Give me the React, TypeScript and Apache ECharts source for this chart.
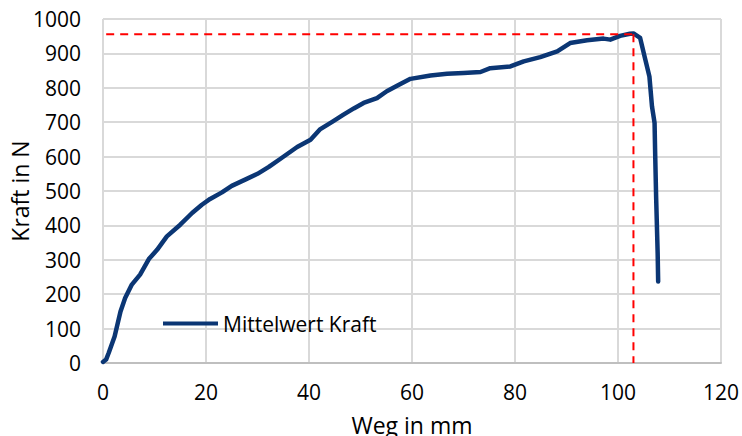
import React, { useEffect, useRef } from "react";
import * as echarts from "echarts";

const wegMm: number[] = [
  0, 0.6, 1.1, 2.25, 3.4, 4.3, 5.6, 7.2, 8.9, 10.5, 12.4, 15, 17.3, 19.2, 20.8,
  23.1, 25, 27.6, 30, 32.2, 34.4, 37.7, 40.3, 42.2, 44.5, 46.7, 48.7, 50.6,
  53.2, 55.1, 57.1, 59.7, 63.6, 66.8, 70, 73.3, 75.2, 79.1, 81.7, 84.9, 88.2,
  90.7, 94, 97.2, 98.5, 100.4, 102.3, 103, 104.3, 105.3, 106.1, 106.6, 107.1,
  107.2, 107.4, 107.7, 107.8,
];
const kraftN: number[] = [
  3, 10, 29, 77, 150, 189, 228, 257, 302, 329, 368, 402, 436, 460, 477, 496,
  515, 533, 550, 570, 593, 628, 649, 680, 701, 722, 740, 756, 770, 790, 806,
  826, 836, 841, 843, 846, 857, 862, 877, 889, 906, 930, 938, 943, 940, 951,
  957, 958, 945, 882, 833, 746, 698, 620, 484, 320, 237,
];

const seriesName = "Mittelwert Kraft";
const xAxisName = "Weg in mm";
const yAxisName = "Kraft in N";
const maxKraft = 956;
const maxWeg = 103;
const refStartX = -2.1;

const FONT = "Open Sans";
const NAVY = "#0b3674";

export default function App() {
  const ref = useRef<HTMLDivElement>(null);
  useEffect(() => {
    if (!ref.current) return;
    const chart = echarts.init(ref.current, null, { renderer: "svg" });
    const mainData = wegMm.map((x, i) => [x, kraftN[i]]);
    chart.setOption({
      animation: false,
      backgroundColor: "#ffffff",
      textStyle: { fontFamily: FONT },
      grid: {
        left: 103,
        top: 19,
        width: 618,
        height: 344,
        containLabel: false,
        outerBoundsMode: "none",
      },
      legend: {
        data: [{ name: seriesName, icon: "rect" }],
        left: 163,
        top: 313,
        padding: 0,
        itemWidth: 55,
        itemHeight: 4,
        itemGap: 4,
        itemStyle: { color: NAVY, borderWidth: 0 },
        textStyle: { fontFamily: FONT, fontSize: 21, color: "#000000" },
      },
      xAxis: {
        type: "value",
        min: 0,
        max: 120,
        interval: 20,
        name: xAxisName,
        nameLocation: "middle",
        nameGap: 50,
        nameMoveOverlap: false,
        nameTextStyle: { fontFamily: FONT, fontSize: 23, color: "#000000" },
        axisLine: { show: true, lineStyle: { color: "#bfbfbf", width: 2 } },
        axisTick: { show: false },
        axisLabel: { fontFamily: FONT, fontSize: 21, color: "#000000", margin: 18 },
        splitLine: { show: true, lineStyle: { color: "#d9d9d9", width: 2 } },
      },
      yAxis: {
        type: "value",
        min: 0,
        max: 1000,
        interval: 100,
        name: yAxisName,
        nameLocation: "middle",
        nameRotate: 90,
        nameGap: 72,
        nameMoveOverlap: false,
        nameTextStyle: { fontFamily: FONT, fontSize: 23, color: "#000000" },
        axisLine: { show: false },
        axisTick: { show: false },
        axisLabel: {
          fontFamily: FONT,
          fontSize: 21,
          color: "#000000",
          margin: 22,
          formatter: (v: number) => String(v),
        },
        splitLine: { show: true, lineStyle: { color: "#d9d9d9", width: 2 } },
      },
      series: [
        {
          name: seriesName,
          type: "line",
          data: mainData,
          symbol: "none",
          smooth: false,
          z: 3,
          lineStyle: { color: NAVY, width: 4.5, cap: "round", join: "round" },
          itemStyle: { color: NAVY },
        },
        {
          name: "refH",
          type: "line",
          data: [
            [refStartX, maxKraft],
            [maxWeg, maxKraft],
          ],
          symbol: "none",
          clip: false,
          z: 4,
          lineStyle: { color: "#ff0000", width: 2, type: [8, 6] },
        },
        {
          name: "refV",
          type: "line",
          data: [
            [maxWeg, maxKraft],
            [maxWeg, 0],
          ],
          symbol: "none",
          clip: false,
          z: 4,
          lineStyle: { color: "#ff0000", width: 2, type: [8, 6] },
        },
      ],
    });
    return () => chart.dispose();
  }, []);
  return (
    <div
      ref={ref}
      style={{ position: "fixed", left: 0, top: 0, width: 742, height: 436 }}
    />
  );
}
